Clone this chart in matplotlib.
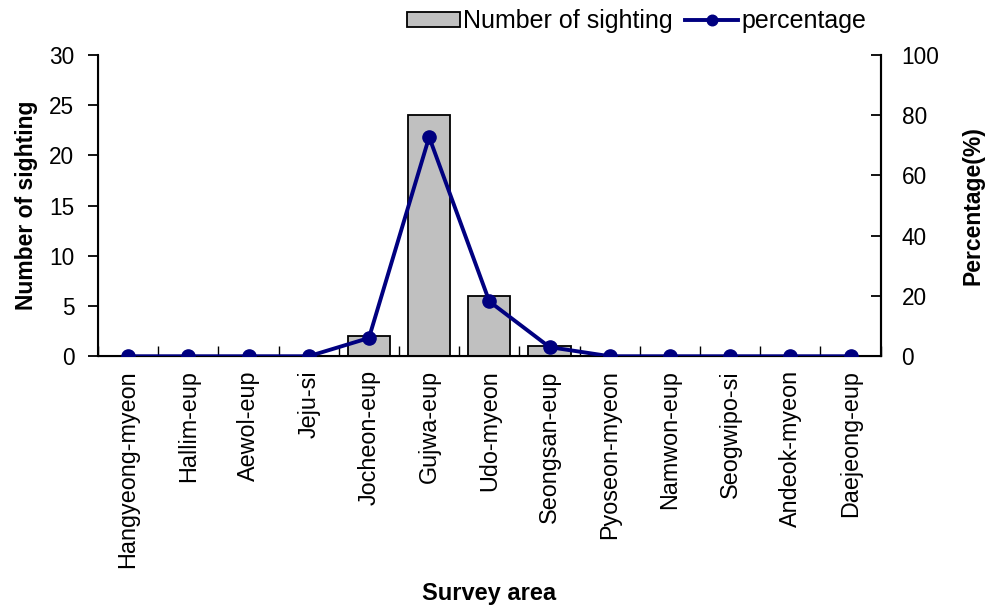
import numpy as np
import matplotlib.pyplot as plt

plt.rcParams['font.family'] = ['Liberation Sans', 'DejaVu Sans']

areas = ["Hangyeong-myeon", "Hallim-eup", "Aewol-eup", "Jeju-si", "Jocheon-eup",
         "Gujwa-eup", "Udo-myeon", "Seongsan-eup", "Pyoseon-myeon", "Namwon-eup",
         "Seogwipo-si", "Andeok-myeon", "Daejeong-eup"]
sightings = [0, 0, 0, 0, 2, 24, 6, 1, 0, 0, 0, 0, 0]
percentage = [0, 0, 0, 0, 6.06, 72.73, 18.18, 3.03, 0, 0, 0, 0, 0]

fig = plt.figure(figsize=(9.92, 6.1), dpi=100)
ax = fig.add_axes([0.0988, 0.416, 0.789, 0.494])
x = np.arange(len(areas))

bars = ax.bar(x, sightings, width=0.7, color='#c0c0c0', edgecolor='black',
              linewidth=1.3, label='Number of sighting', zorder=2)
ax.set_xlim(-0.5, len(areas) - 0.5)
ax.set_ylim(0, 30)
ax.set_yticks(range(0, 31, 5))
ax.set_xticks(x)
ax.set_xticklabels(areas, rotation=90, fontsize=16.8)
ax.tick_params(axis='x', length=0, pad=10)
ax.set_xticks(np.arange(-0.5, len(areas)), minor=True)
ax.tick_params(axis='x', which='minor', direction='in', length=7, width=1)
ax.tick_params(axis='y', direction='out', length=7, width=1.3, labelsize=16.3, pad=10)
ax.spines['top'].set_visible(False)
for s in ['left', 'bottom', 'right']:
    ax.spines[s].set_linewidth(1.5)
ax.set_ylabel('Number of sighting', fontsize=16.5, fontweight='bold', labelpad=8)
ax.set_xlabel('Survey area', fontsize=17, fontweight='bold', labelpad=10)

ax2 = ax.twinx()
line, = ax2.plot(x, percentage, color='#000080', linewidth=2.8, marker='o',
                 markersize=9.5, label='percentage', zorder=3)
ax2.set_ylim(0, 100)
ax2.set_yticks(range(0, 101, 20))
ax2.tick_params(axis='y', direction='in', length=7, width=1.3, labelsize=16.3, pad=15)
ax2.spines['top'].set_visible(False)
ax2.spines['right'].set_linewidth(1.5)
ax2.set_ylabel('Percentage(%)', fontsize=16.5, fontweight='bold', labelpad=16)
ax2.set_zorder(ax.get_zorder() + 1)
ax2.patch.set_visible(False)

fig.legend([bars, line], ['Number of sighting', 'percentage'], loc='center',
           bbox_to_anchor=(0.642, 0.965), ncol=2, frameon=False, fontsize=18,
           handlelength=2.1, handleheight=0.6, handletextpad=0.15, columnspacing=0.5,
           markerscale=0.8)

fig.savefig('out.png', dpi=100)
